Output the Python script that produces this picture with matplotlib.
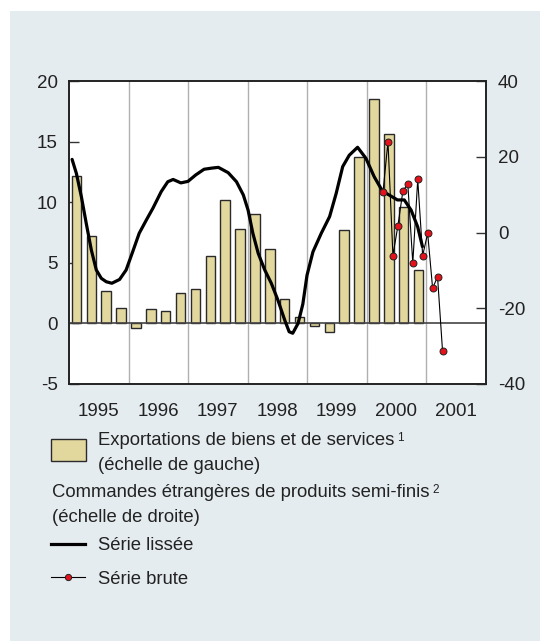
import matplotlib.pyplot as plt
from matplotlib.patches import Rectangle
from matplotlib.lines import Line2D
import numpy as np

# Exportations de biens et de services, trimestriel (echelle de gauche)
exports = [12.2, 7.2, 2.7, 1.3,
           -0.4, 1.2, 1.0, 2.5,
           2.85, 5.6, 10.2, 7.8,
           9.0, 6.1, 2.0, 0.5,
           -0.25, -0.7, 7.7, 13.7,
           18.5, 15.6, 9.6, 4.4]

# Commandes etrangeres, serie lissee (echelle de droite)
smooth_t = [1995.052, 1995.124, 1995.208, 1995.29, 1995.375, 1995.459,
            1995.543, 1995.626, 1995.72, 1995.85, 1995.96,
            1996.07, 1996.18, 1996.30, 1996.41, 1996.55, 1996.66, 1996.75,
            1996.88,
            1997.00, 1997.13, 1997.27, 1997.40, 1997.51, 1997.675, 1997.815,
            1997.93,
            1998.01, 1998.09, 1998.18, 1998.29, 1998.40, 1998.51, 1998.625,
            1998.70, 1998.76, 1998.85, 1998.93,
            1999.00, 1999.10, 1999.24, 1999.38, 1999.49, 1999.60, 1999.71,
            1999.85, 1999.99,
            2000.13, 2000.27, 2000.38, 2000.52, 2000.635, 2000.75, 2000.86,
            2000.94]
smooth_v = [19.3, 15.6, 9.45, 2.4, -4.6, -9.9,
            -12.1, -13.0, -13.4, -12.4, -9.9,
            -5.1, -0.2, 3.3, 6.4, 10.8, 13.4, 14.0,
            13.1,
            13.5, 15.2, 16.7, 17.0, 17.2, 15.8, 13.4,
            9.9,
            5.9, -0.2, -5.5, -9.9, -13.4, -17.8, -23.1,
            -26.2, -26.6, -24.0, -18.9,
            -11.3, -5.1, -0.2, 4.2, 10.3, 17.4, 20.4,
            22.5, 19.6,
            14.7, 10.9, 9.9, 8.6, 8.6, 5.9, 1.5,
            -3.7]

# Commandes etrangeres, serie brute (mensuel, avr. 2000 - avr. 2001)
raw_t = [2000.278, 2000.361, 2000.444, 2000.528, 2000.611, 2000.694, 2000.778,
         2000.861, 2000.944, 2001.028, 2001.111, 2001.194, 2001.278]
raw_v = [10.8, 24.0, -6.1, 1.8, 10.9, 12.9, -8.1,
         14.0, -6.1, -0.2, -14.7, -11.7, -31.3]

years = [1995, 1996, 1997, 1998, 1999, 2000, 2001]

plt.rcParams['font.family'] = ['Liberation Sans', 'DejaVu Sans']
plt.rcParams['axes.unicode_minus'] = False
txt = '#222222'
panel = '#e5ecf0'
bar_col = '#e2d89e'

fig = plt.figure(figsize=(5.4, 6.41), dpi=100)
fig.patch.set_facecolor('white')
fig.patches.append(Rectangle((10 / 540, 0), 530 / 540, 1 - 11 / 641,
                             transform=fig.transFigure, facecolor=panel,
                             edgecolor='none', zorder=-5))

ax = fig.add_axes([69 / 540, 1 - 384 / 641, 416.5 / 540, 303 / 641])
ax.set_facecolor('white')
bx = 1995.125 + 0.25 * np.arange(len(exports))
ax.bar(bx, exports, width=0.16, color=bar_col, edgecolor='#2a2a2a',
       linewidth=1.0, zorder=3)
for y in years[1:]:
    ax.axvline(y, color='#b0b0b0', linewidth=1.0, zorder=1)
ax.axhline(0, color='#444444', linewidth=1.2, zorder=4)
ax.set_xlim(1995, 2002)
ax.set_ylim(-5, 20)
ax.set_yticks([-5, 0, 5, 10, 15, 20])
ax.set_xticks([y + 0.5 for y in years])
ax.set_xticklabels([str(y) for y in years])
ax.tick_params(axis='x', length=0, pad=14, labelsize=13.5, labelcolor=txt)
ax.tick_params(axis='y', direction='in', length=7, width=1.0, pad=8,
               labelsize=13.5, labelcolor=txt, color='#333333')
for s in ax.spines.values():
    s.set_linewidth(1.2)
    s.set_color('#222222')

ax2 = ax.twinx()
ax2.set_ylim(-40, 40)
ax2.set_yticks([-40, -20, 0, 20, 40])
ax2.tick_params(axis='y', direction='in', length=7, width=1.0, pad=9,
                labelsize=13.5, labelcolor=txt, color='#333333')
ax2.plot(smooth_t, smooth_v, color='black', linewidth=2.3,
         solid_joinstyle='round', solid_capstyle='round', zorder=5)
ax2.plot(raw_t, raw_v, color='black', linewidth=0.8, marker='o',
         markersize=5, markerfacecolor='#e5121b', markeredgecolor='#222222',
         markeredgewidth=0.7, zorder=6)
for s in ax2.spines.values():
    s.set_linewidth(1.2)
    s.set_color('#222222')


def fx(px):
    return px / 540


def fy(py):
    return 1 - py / 641


fs = 13.3
fig.patches.append(Rectangle((fx(51), fy(461)), fx(34.5), 22 / 641,
                             transform=fig.transFigure, facecolor=bar_col,
                             edgecolor='#2a2a2a', linewidth=1.0))
t1 = fig.text(fx(98), fy(445), 'Exportations de biens et de services',
              fontsize=fs, color=txt, va='baseline')
fig.text(fx(98), fy(470), '(échelle de gauche)', fontsize=fs, color=txt,
         va='baseline')
t2 = fig.text(fx(51.5), fy(497), 'Commandes étrangères de produits semi-finis',
              fontsize=fs, color=txt, va='baseline')
fig.text(fx(51.5), fy(521.5), '(échelle de droite)', fontsize=fs, color=txt,
         va='baseline')

fig.lines.append(Line2D([fx(51), fx(85)], [fy(543.5), fy(543.5)],
                        transform=fig.transFigure, color='black',
                        linewidth=2.3))
fig.text(fx(98), fy(550), 'Série lissée', fontsize=fs, color=txt,
         va='baseline')
fig.lines.append(Line2D([fx(51), fx(85)], [fy(577), fy(577)],
                        transform=fig.transFigure, color='black',
                        linewidth=0.8))
fig.lines.append(Line2D([fx(68)], [fy(577)], transform=fig.transFigure,
                        marker='o', markersize=4.5, markerfacecolor='#e5121b',
                        markeredgecolor='#222222', markeredgewidth=0.7,
                        linestyle='none'))
fig.text(fx(98), fy(584), 'Série brute', fontsize=fs, color=txt,
         va='baseline')

# superscript note markers placed just after their text
fig.canvas.draw()
r = fig.canvas.get_renderer()
for t, s in [(t1, '1'), (t2, '2')]:
    bb = t.get_window_extent(r).transformed(fig.transFigure.inverted())
    fig.text(bb.x1 + 3 / 540, bb.y1, s, fontsize=8.5, color=txt,
             va='top', ha='left')

fig.savefig('out.png', dpi=100)
